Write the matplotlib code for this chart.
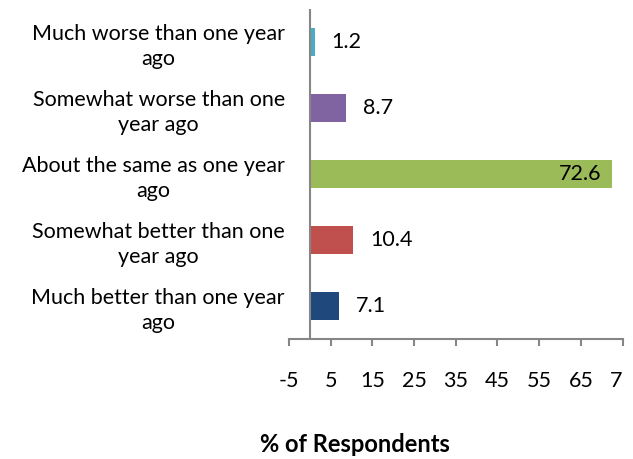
import matplotlib.pyplot as plt
from matplotlib.transforms import Bbox, TransformedBbox

plt.rcParams['font.family'] = ['Lato', 'DejaVu Sans']

# survey answers, top to bottom
answers = ["Much worse than one year\nago",
           "Somewhat worse than one\nyear ago",
           "About the same as one year\nago",
           "Somewhat better than one\nyear ago",
           "Much better than one year\nago"]
percent = [1.2, 8.7, 72.6, 10.4, 7.1]
colors = ["#4BACC6", "#8064A2", "#9BBB59", "#C0504D", "#1F497D"]
xticks = [-5, 5, 15, 25, 35, 45, 55, 65, 75]

axis_grey = "#868686"
fs = 15.5

fig = plt.figure(figsize=(6.33, 4.59), dpi=100)
ax = fig.add_axes([289/633, 120/459, 333.5/633, 330/459])

ypos = list(range(len(answers)))
ax.barh(ypos, percent, height=0.41, color=colors)
ax.set_ylim(len(answers) - 0.5, -0.5)
ax.set_xlim(-5, 75)

# value labels: outside short bars, inside the long one
for y, v in zip(ypos, percent):
    if v > 50:
        ax.annotate(f"{v}", (v, y), xytext=(-8, 0), textcoords="offset points",
                    ha="right", va="center", fontsize=fs)
    else:
        ax.annotate(f"{v}", (v, y), xytext=(12, 0), textcoords="offset points",
                    ha="left", va="center", fontsize=fs)

# category axis sits at zero
ax.axvline(0, color=axis_grey, lw=1.5)

for s in ["top", "right", "left"]:
    ax.spines[s].set_visible(False)
ax.spines["bottom"].set_color(axis_grey)
ax.spines["bottom"].set_linewidth(1.5)

ax.set_yticks(ypos)
ax.set_yticklabels(answers, fontsize=fs, linespacing=1.3, ha="right",
                   multialignment="center")
ax.tick_params(axis="y", length=0, pad=3)

ax.set_xticks(xticks)
ax.set_xticklabels([str(t) for t in xticks], fontsize=fs)
ax.tick_params(axis="x", direction="out", length=5, width=1.5,
               color=axis_grey, pad=18)

# the last tick label runs off the right edge
last = ax.get_xticklabels()[-1]
last.set_clip_box(TransformedBbox(Bbox.from_extents(0, 0, 623/633, 1), fig.transFigure))
last.set_clip_on(True)

ax.set_xlabel("% of Respondents", fontsize=17, fontweight="bold")
ax.xaxis.set_label_coords((355 - 289) / 333.5, (339 - 445) / 330)
ax.xaxis.label.set_va("center")

fig.savefig("out.png", dpi=100)
